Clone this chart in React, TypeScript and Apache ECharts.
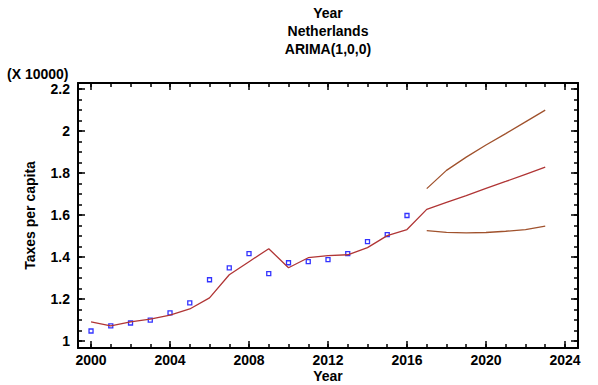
import React, { useEffect, useRef } from "react";
import * as echarts from "echarts";

const years = [2000, 2001, 2002, 2003, 2004, 2005, 2006, 2007, 2008, 2009, 2010, 2011, 2012, 2013, 2014, 2015, 2016];
const observed = [1.048, 1.072, 1.086, 1.1, 1.134, 1.182, 1.292, 1.349, 1.416, 1.321, 1.373, 1.378, 1.388, 1.416, 1.474, 1.507, 1.598];
const fitYears = [2000, 2001, 2002, 2003, 2004, 2005, 2006, 2007, 2008, 2009, 2010, 2011, 2012, 2013, 2014, 2015, 2016, 2017, 2018, 2019, 2020, 2021, 2022, 2023];
const fitted = [1.091, 1.072, 1.091, 1.105, 1.124, 1.153, 1.206, 1.316, 1.378, 1.44, 1.349, 1.397, 1.407, 1.411, 1.445, 1.502, 1.531, 1.627, 1.66, 1.693, 1.727, 1.76, 1.794, 1.828];
const fcYears = [2017, 2018, 2019, 2020, 2021, 2022, 2023];
const upper = [1.726, 1.813, 1.876, 1.934, 1.988, 2.044, 2.1];
const lower = [1.526, 1.518, 1.515, 1.517, 1.523, 1.531, 1.547];
const xMajor = [2000, 2004, 2008, 2012, 2016, 2020, 2024];
const xMinor = [2000, 2001, 2002, 2003, 2004, 2005, 2006, 2007, 2008, 2009, 2010, 2011, 2012, 2013, 2014, 2015, 2016, 2017, 2018, 2019, 2020, 2021, 2022, 2023, 2024];
const yMajor = [1, 1.2, 1.4, 1.6, 1.8, 2, 2.2];
const yMinor = [1, 1.05, 1.1, 1.15, 1.2, 1.25, 1.3, 1.35, 1.4, 1.45, 1.5, 1.55, 1.6, 1.65, 1.7, 1.75, 1.8, 1.85, 1.9, 1.95, 2, 2.05, 2.1, 2.15, 2.2];

const FONT = "'Liberation Sans', Arial, sans-serif";
const FS = 14;

export default function App() {
  const ref = useRef<HTMLDivElement>(null);
  useEffect(() => {
    if (!ref.current) return;
    const chart = echarts.init(ref.current, null, { renderer: "svg" });
    const xMin = 1999.34, xMax = 2024.66, yMin = 0.967, yMax = 2.229;
    const lineStyle = { color: "#000", width: 2 };
    const tickStyle = { color: "#000", width: 1.5 };
    const mkX = (pos: string, vals: number[], len: number, labels: boolean, line: boolean, name?: string) => ({
      type: "value",
      position: pos,
      min: xMin,
      max: xMax,
      name: name,
      nameLocation: "middle",
      nameGap: 21,
      nameMoveOverlap: false,
      nameTextStyle: { fontFamily: FONT, fontWeight: "bold", fontSize: FS, color: "#000", lineHeight: 14 },
      axisLine: { show: line, onZero: false, lineStyle },
      axisTick: { show: true, inside: true, length: len, customValues: vals, lineStyle: tickStyle },
      axisLabel: labels
        ? { show: true, customValues: vals, margin: 5, fontFamily: FONT, fontWeight: "bold", fontSize: FS, color: "#000", formatter: (v: number) => String(Math.round(v)) }
        : { show: false },
      splitLine: { show: false },
    });
    const mkY = (pos: string, vals: number[], len: number, labels: boolean, line: boolean, name?: string) => ({
      type: "value",
      position: pos,
      min: yMin,
      max: yMax,
      name: name,
      nameLocation: "middle",
      nameGap: 41,
      nameMoveOverlap: false,
      nameTextStyle: { fontFamily: FONT, fontWeight: "bold", fontSize: FS, color: "#000" },
      axisLine: { show: line, onZero: false, lineStyle },
      axisTick: { show: true, inside: true, length: len, customValues: vals, lineStyle: tickStyle },
      axisLabel: labels
        ? { show: true, customValues: vals, margin: 8, fontFamily: FONT, fontWeight: "bold", fontSize: FS, color: "#000", formatter: (v: number) => String(Math.round(v * 10) / 10) }
        : { show: false },
      splitLine: { show: false },
    });
    chart.setOption({
      animation: false,
      backgroundColor: "#fff",
      title: {
        text: "Year\nNetherlands\nARIMA(1,0,0)",
        left: 328,
        top: 4,
        padding: 0,
        textAlign: "center",
        textStyle: { fontFamily: FONT, fontWeight: "bold", fontSize: FS, color: "#000", lineHeight: 18 },
      },
      graphic: [
        {
          type: "text",
          left: 7,
          top: 67,
          style: { text: "(X 10000)", fontFamily: FONT, fontWeight: "bold", fontSize: FS, fill: "#000" },
        },
      ],
      grid: { left: 78, right: 20, top: 83, bottom: 37, containLabel: false, outerBoundsMode: "none" },
      xAxis: [
        mkX("bottom", xMajor, 7, true, true, "Year"),
        mkX("bottom", xMinor, 4, false, false),
        mkX("top", xMajor, 7, false, true),
        mkX("top", xMinor, 4, false, false),
      ],
      yAxis: [
        mkY("left", yMajor, 7, true, true, "Taxes per capita"),
        mkY("left", yMinor, 4, false, false),
        mkY("right", yMajor, 7, false, true),
        mkY("right", yMinor, 4, false, false),
      ],
      series: [
        {
          type: "line",
          name: "Fitted",
          data: fitYears.map((y, i) => [y, fitted[i]]),
          showSymbol: false,
          lineStyle: { color: "#b03535", width: 1.3 },
          xAxisIndex: 0,
          yAxisIndex: 0,
        },
        {
          type: "line",
          name: "Upper",
          data: fcYears.map((y, i) => [y, upper[i]]),
          showSymbol: false,
          lineStyle: { color: "#a0522d", width: 1.3 },
          xAxisIndex: 0,
          yAxisIndex: 0,
        },
        {
          type: "line",
          name: "Lower",
          data: fcYears.map((y, i) => [y, lower[i]]),
          showSymbol: false,
          lineStyle: { color: "#a0522d", width: 1.3 },
          xAxisIndex: 0,
          yAxisIndex: 0,
        },
        {
          type: "scatter",
          name: "Observed",
          data: years.map((y, i) => [y, observed[i]]),
          symbol: "rect",
          symbolSize: 4,
          itemStyle: { color: "#fff", borderColor: "#0000ff", borderWidth: 1.3 },
          xAxisIndex: 0,
          yAxisIndex: 0,
        },
      ],
    });
    return () => chart.dispose();
  }, []);
  return <div ref={ref} style={{ width: 598, height: 385, position: "absolute", left: 0, top: 0 }} />;
}
